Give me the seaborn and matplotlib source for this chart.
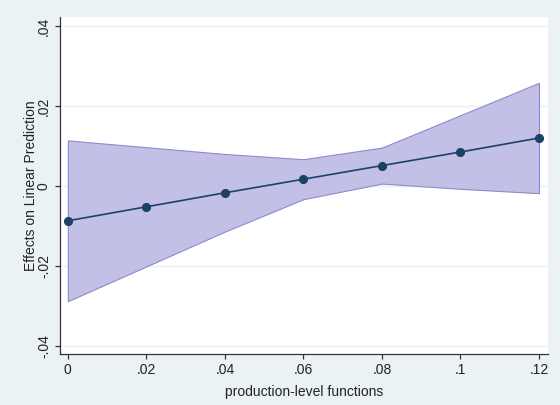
import matplotlib
matplotlib.use("Agg")
import matplotlib.pyplot as plt
import seaborn as sns
import pandas as pd

x_vals = [0.0, 0.02, 0.04, 0.06, 0.08, 0.10, 0.12]
effect = [-0.0087, -0.0052, -0.0017, 0.0017, 0.0051, 0.0085, 0.0120]
ci_upper = [0.0114, 0.0097, 0.0080, 0.0067, 0.0096, 0.0177, 0.0258]
ci_lower = [-0.0288, -0.0201, -0.0114, -0.0033, 0.0006, -0.0007, -0.0018]
x_ticks = [0.0, 0.02, 0.04, 0.06, 0.08, 0.10, 0.12]
x_tick_labels = ["0", ".02", ".04", ".06", ".08", ".1", ".12"]
y_ticks = [-0.04, -0.02, 0.0, 0.02, 0.04]
y_tick_labels = ["-.04", "-.02", "0", ".02", ".04"]

df = pd.DataFrame({"x": x_vals, "effect": effect, "lo": ci_lower, "hi": ci_upper})

sns.set_style("white")
plt.rcParams["font.family"] = ["Liberation Sans", "DejaVu Sans"]

bg = "#EAF2F3"
fig = plt.figure(figsize=(5.6, 4.05), dpi=100, facecolor=bg)
ax = fig.add_axes([60/560, 51/405, 488/560, 337/405])
ax.set_facecolor("white")

ax.fill_between(df["x"], df["lo"], df["hi"], facecolor="#C3C0E8",
                edgecolor="#8E89CC", linewidth=0.8, zorder=2)
sns.lineplot(data=df, x="x", y="effect", ax=ax, color="#1C4166", linewidth=1.2,
             marker="o", markersize=5.8, markeredgecolor="#1C4166",
             markerfacecolor="#1C4166", zorder=3)

ax.set_xlim(-0.002, 0.1223)
ax.set_ylim(-0.042, 0.04225)
ax.set_xticks(x_ticks)
ax.set_xticklabels(x_tick_labels, fontsize=10, color="#222222")
ax.set_yticks(y_ticks)
ax.set_yticklabels(y_tick_labels, fontsize=10, color="#222222", rotation=90, va="center")
for yt in y_ticks:
    ax.axhline(yt, color=bg, linewidth=1.0, zorder=1)

ax.set_xlabel("production-level functions", fontsize=10, color="#222222", labelpad=6)
ax.set_ylabel("Effects on Linear Prediction", fontsize=10, color="#222222", labelpad=-1)

for s in ["top", "right"]:
    ax.spines[s].set_visible(False)
for s in ["left", "bottom"]:
    ax.spines[s].set_color("#333333")
    ax.spines[s].set_linewidth(0.9)
ax.tick_params(axis="both", which="both", direction="out", length=3.5, width=0.9,
               color="#333333", left=True, bottom=True, pad=3)

fig.savefig("out.png", dpi=100, facecolor=bg)
